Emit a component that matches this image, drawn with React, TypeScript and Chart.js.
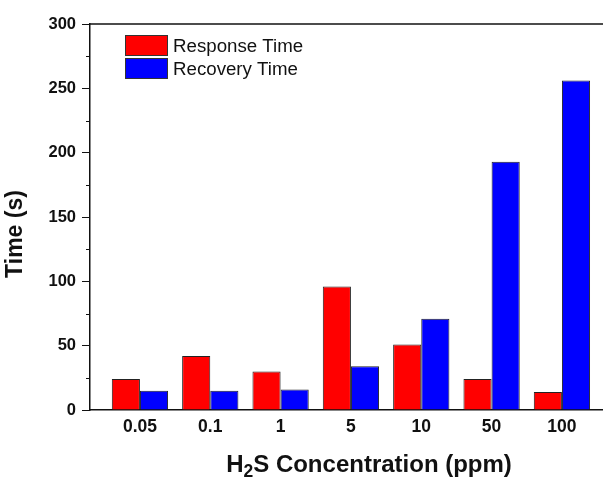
import { useEffect, useRef } from 'react';
import { Chart, registerables } from 'chart.js';

Chart.register(...registerables);

const categories = ['0.05', '0.1', '1', '5', '10', '50', '100'];
const responseTime = [24, 42, 30, 96, 51, 24, 14];
const recoveryTime = [15, 15, 16, 34, 71, 193, 256];
const seriesLabels = ['Response Time', 'Recovery Time'];
const yMinorTicks = [25, 75, 125, 175, 225, 275];
const yTitle = 'Time (s)';
const xTitleParts = ['H', '2', 'S Concentration (ppm)'];

const FONT = '"Liberation Sans", Arial, Helvetica, sans-serif';

const decor = {
  id: 'decor',
  afterDraw(chart: any) {
    const { ctx, chartArea: ca, scales } = chart;
    const y = scales.y;
    ctx.save();
    // top frame line
    ctx.strokeStyle = '#111';
    ctx.lineWidth = 1.5;
    ctx.beginPath();
    ctx.moveTo(ca.left, ca.top);
    ctx.lineTo(chart.width, ca.top);
    ctx.stroke();
    // minor ticks
    ctx.lineWidth = 1;
    yMinorTicks.forEach((v) => {
      const py = Math.round(y.getPixelForValue(v)) + 0.5;
      ctx.beginPath();
      ctx.moveTo(ca.left - 4, py);
      ctx.lineTo(ca.left, py);
      ctx.stroke();
    });
    // legend
    chart.data.datasets.forEach((ds: any, i: number) => {
      const bx = ca.left + 35;
      const by = ca.top + 11 + i * 23;
      ctx.fillStyle = ds.backgroundColor;
      ctx.fillRect(bx, by, 43, 21);
      ctx.strokeStyle = '#333';
      ctx.lineWidth = 1;
      ctx.strokeRect(bx + 0.5, by + 0.5, 42, 20);
      ctx.fillStyle = '#111';
      ctx.font = `18.7px ${FONT}`;
      ctx.textAlign = 'left';
      ctx.textBaseline = 'alphabetic';
      ctx.fillText(ds.label, bx + 48, by + 17);
    });
    // y title
    ctx.save();
    ctx.translate(21.5, 234);
    ctx.rotate(-Math.PI / 2);
    ctx.font = `bold 23px ${FONT}`;
    ctx.textAlign = 'center';
    ctx.textBaseline = 'alphabetic';
    ctx.fillStyle = '#111';
    ctx.fillText(yTitle, 0, 0);
    ctx.restore();
    // x title with subscript
    const big = `bold 24px ${FONT}`;
    const small = `bold 17.5px ${FONT}`;
    ctx.font = big;
    const w0 = ctx.measureText(xTitleParts[0]).width;
    const w2 = ctx.measureText(xTitleParts[2]).width;
    ctx.font = small;
    const w1 = ctx.measureText(xTitleParts[1]).width;
    const total = w0 + w1 + w2;
    let x = 369 - total / 2;
    const base = 472;
    ctx.textAlign = 'left';
    ctx.fillStyle = '#111';
    ctx.font = big;
    ctx.fillText(xTitleParts[0], x, base);
    x += w0;
    ctx.font = small;
    ctx.fillText(xTitleParts[1], x, base + 5);
    x += w1;
    ctx.font = big;
    ctx.fillText(xTitleParts[2], x, base);
    ctx.restore();
  },
};

export default function App() {
  const ref = useRef<HTMLCanvasElement>(null);
  useEffect(() => {
    if (!ref.current) return;
    const chart = new Chart(ref.current, {
      type: 'bar',
      data: {
        datasets: [
          {
            label: seriesLabels[0],
            data: responseTime.map((v, i) => ({ x: i, y: v })),
            backgroundColor: '#ff0000',
            borderColor: '#222',
            borderWidth: 1,
            borderSkipped: 'start',
          },
          {
            label: seriesLabels[1],
            data: recoveryTime.map((v, i) => ({ x: i, y: v })),
            backgroundColor: '#0000ff',
            borderColor: '#222',
            borderWidth: 1,
            borderSkipped: 'start',
          },
        ],
      },
      options: {
        animation: false,
        responsive: false,
        devicePixelRatio: 1,
        layout: { padding: { top: 24, left: 0, right: 0, bottom: 0 } },
        plugins: { legend: { display: false }, tooltip: { enabled: false } },
        datasets: { bar: { categoryPercentage: 0.8, barPercentage: 1.0 } },
        scales: {
          x: {
            type: 'linear',
            offset: false,
            min: -0.71,
            max: 6.584,
            afterBuildTicks: (scale: any) => {
              scale.ticks = categories.map((_, i) => ({ value: i }));
            },
            afterFit: (scale: any) => {
              scale.height = 71;
            },
            grid: { display: false, drawTicks: false },
            border: { display: true, color: '#111', width: 1.5 },
            ticks: {
              autoSkip: false,
              maxRotation: 0,
              padding: 7,
              color: '#111',
              font: { family: FONT, size: 17.5, weight: 'bold' },
              callback: (v: any) => categories[v as number] ?? '',
            },
          },
          y: {
            min: 0,
            max: 300,
            afterFit: (scale: any) => {
              scale.width = 90;
            },
            grid: { drawOnChartArea: false, drawTicks: true, tickLength: 8, tickColor: '#111', tickWidth: 1 },
            border: { display: true, color: '#111', width: 1.5 },
            ticks: {
              stepSize: 50,
              padding: 6,
              color: '#111',
              font: { family: FONT, size: 16.5, weight: 'bold' },
            },
          },
        },
      },
      plugins: [decor],
    } as any);
    return () => chart.destroy();
  }, []);
  return (
    <canvas
      ref={ref}
      width={603}
      height={481}
      style={{ position: 'fixed', left: 0, top: 0, width: 603, height: 481 }}
    />
  );
}
